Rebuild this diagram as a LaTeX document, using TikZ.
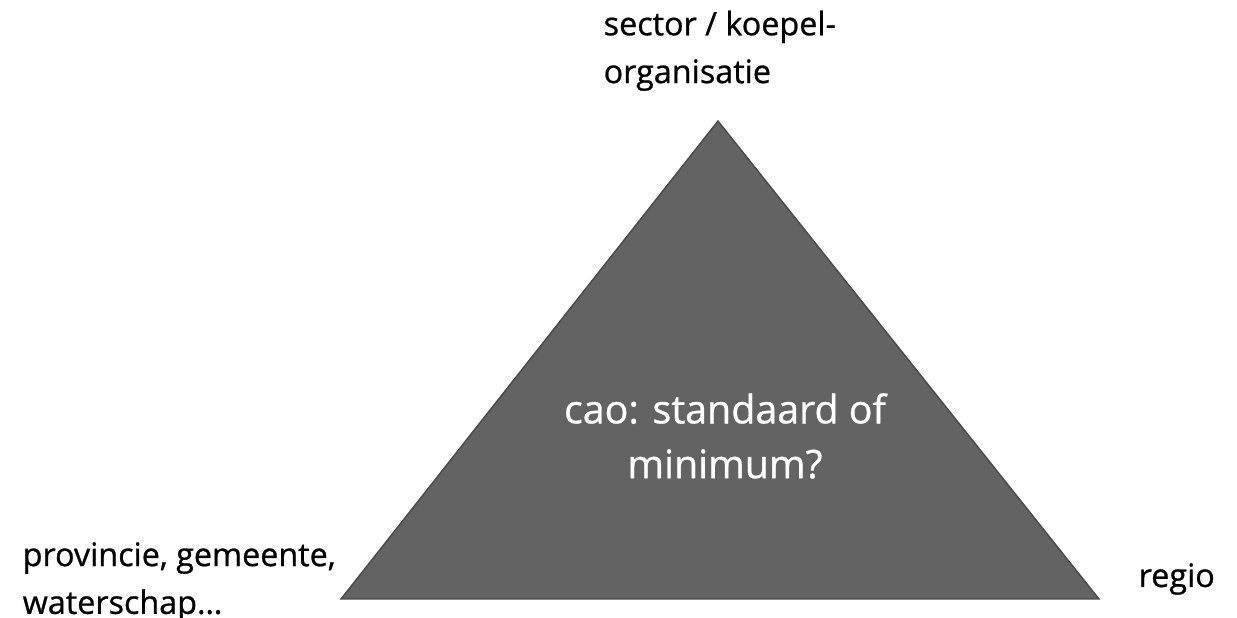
\documentclass[tikz,border=0pt]{standalone}
\usepackage{fontspec}
\setmainfont{Open Sans}
\newfontfamily\medfont{Open Sans}[RawFeature={embolden=0.8}]
\usepackage{xcolor}
\definecolor{triGray}{HTML}{636363}
\definecolor{triEdge}{HTML}{4A4A4A}

\begin{document}
\begin{tikzpicture}[x=1cm,y=1cm,
	corner/.style={align=left, font=\medfont\fontsize{9.2pt}{13.6pt}\selectfont, inner sep=0pt},
	middle/.style={align=center, text=white, font=\medfont\fontsize{11.2pt}{15.6pt}\selectfont, inner sep=0pt}]
	\useasboundingbox (0,0) rectangle (12.37,6.18);

	% corners of the triangle
	\coordinate (top) at (7.18,4.97);
	\coordinate (left) at (3.41,0.19);
	\coordinate (right) at (10.99,0.19);

	\filldraw[fill=triGray, draw=triEdge, thin] (top) -- (left) -- (right) -- cycle;

	% labels at the corners
	\node[corner, anchor=north west] (sector) at (6.03,6.08) {sector / koepel-\\organisatie};
	\node[corner, anchor=west] (prov) at (0.22,0.36) {provincie, gemeente,\\waterschap\dots};
	\node[corner, anchor=west] (regio) at (11.38,0.39) {regio};

	% text inside
	\node[middle] (cao) at (7.25,1.82) {cao: standaard of\\minimum?};
\end{tikzpicture}
\end{document}
